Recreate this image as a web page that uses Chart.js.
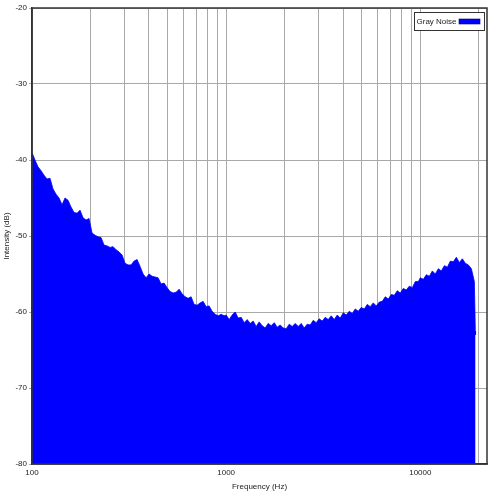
<!DOCTYPE html>
<html>
<head>
<meta charset="utf-8">
<script src="https://cdn.jsdelivr.net/npm/chart.js@4.4.1/dist/chart.umd.min.js"></script>
<style>
  html, body { margin: 0; padding: 0; background: #ffffff; }
  #wrap { width: 500px; height: 500px; }
</style>
</head>
<body>
<div id="wrap"><canvas id="c" width="500" height="500"></canvas></div>
<script>
// ---- data ----
const seriesLabel = "Gray Noise";
const frequencies = [
  100.0, 103.6, 107.4, 111.3, 115.3, 119.5, 123.8, 128.3, 133.0, 137.8,
  142.8, 147.9, 153.3, 158.9, 164.6, 170.6, 176.8, 183.2, 189.8, 196.7,
  203.8, 211.2, 218.9, 226.8, 235.0, 243.5, 252.4, 261.5, 271.0, 280.8,
  291.0, 301.5, 312.5, 323.8, 335.5, 347.7, 360.3, 373.3, 386.9, 400.9,
  415.4, 430.5, 446.1, 462.2, 479.0, 496.3, 514.3, 533.0, 552.3, 572.3,
  593.0, 614.5, 636.8, 659.9, 683.8, 708.6, 734.3, 760.9, 788.5, 817.0,
  846.7, 877.4, 909.2, 942.1, 976.3,
  1000, 1036, 1074, 1113, 1153, 1195, 1238, 1283, 1330, 1378,
  1428, 1479, 1533, 1589, 1646, 1706, 1768, 1832, 1898, 1967,
  2038, 2112, 2189, 2268, 2350, 2435, 2524, 2615, 2710, 2808,
  2910, 3015, 3125, 3238, 3355, 3477, 3603, 3733, 3869, 4009,
  4154, 4305, 4461, 4622, 4790, 4963, 5143, 5330, 5523, 5723,
  5930, 6145, 6368, 6599, 6838, 7086, 7343, 7609, 7885, 8170,
  8467, 8774, 9092, 9421, 9763,
  10000, 10360, 10740, 11130, 11530, 11950, 12380, 12830, 13300, 13780,
  14280, 14790, 15330, 15890, 16460, 17060, 17680, 18320, 18980,
  19200, 19250
];
const intensityDb = [
  -39.0, -40.0, -40.9, -41.4, -42.0, -42.5, -42.4, -43.8, -44.5, -45.0,
  -45.9, -45.0, -45.3, -46.2, -46.9, -47.0, -46.6, -47.6, -47.9, -47.7,
  -49.6, -49.9, -50.1, -50.2, -51.2, -51.3, -51.5, -51.4, -51.8, -52.1,
  -52.5, -53.6, -53.8, -53.8, -53.3, -53.1, -54.0, -55.0, -55.5, -55.0,
  -55.3, -55.4, -55.5, -56.3, -56.2, -56.8, -57.3, -57.5, -57.4, -57.0,
  -57.6, -58.0, -58.2, -58.0, -59.0, -59.1, -58.8, -58.6, -59.3, -59.2,
  -59.9, -60.3, -60.5, -60.3, -60.5,
  -60.4, -61.0, -60.4, -60.0, -60.8, -60.7, -61.4, -61.0, -61.5, -61.2,
  -61.9, -61.3, -61.8, -62.1, -61.5, -61.8, -61.4, -62.0, -61.7, -62.1,
  -62.2, -61.6, -61.9, -61.5, -61.9, -61.5, -62.1, -61.6, -61.7, -61.1,
  -61.4, -60.9, -61.2, -60.7, -61.0, -60.5, -61.0, -60.4, -60.8, -60.1,
  -60.4, -59.9, -60.2, -59.6, -59.9, -59.4, -59.6, -59.0, -59.3, -58.8,
  -59.2, -58.7, -58.6, -58.0, -58.3, -57.7, -57.8, -57.2, -57.5, -56.9,
  -57.1, -56.6, -56.8, -56.0, -56.0,
  -55.5, -55.7, -55.1, -55.3, -54.6, -55.0, -54.3, -54.6, -53.9, -54.1,
  -53.3, -53.4, -52.8, -53.5, -53.0, -53.6, -53.8, -54.3, -56.0,
  -62.5, -63.0
];
const xGridValues = [100, 200, 300, 400, 500, 600, 700, 800, 900,
  1000, 2000, 3000, 4000, 5000, 6000, 7000, 8000, 9000,
  10000, 20000];
const xTickLabels = [100, 1000, 10000];
const yTickValues = [-20, -30, -40, -50, -60, -70, -80];

// ---- chart ----
const FONT = { family: "'Liberation Sans', Arial, sans-serif", size: 8 };
const TEXT = '#222222';
const GRID = '#a9a9a9';
const FILL = '#0000ff';

const frameAndLegend = {
  id: 'frameAndLegend',
  afterDraw(chart) {
    const ctx = chart.ctx;
    const a = chart.chartArea;
    ctx.save();
    ctx.strokeStyle = '#333333';
    ctx.lineWidth = 1.5;
    ctx.strokeRect(a.left, a.top, a.right - a.left, a.bottom - a.top);
    // legend box
    const bx = 414.5, by = 12.5, bw = 70, bh = 18;
    ctx.fillStyle = '#ffffff';
    ctx.fillRect(bx, by, bw, bh);
    ctx.strokeStyle = '#333333';
    ctx.lineWidth = 1;
    ctx.strokeRect(bx, by, bw, bh);
    ctx.fillStyle = TEXT;
    ctx.font = FONT.size + "px " + FONT.family;
    ctx.textBaseline = 'middle';
    ctx.textAlign = 'left';
    ctx.fillText(chart.data.datasets[0].label, bx + 2, by + bh / 2);
    ctx.fillStyle = FILL;
    ctx.fillRect(459, 19, 21, 5);
    ctx.strokeStyle = '#00008b';
    ctx.lineWidth = 0.6;
    ctx.strokeRect(459, 19, 21, 5);
    ctx.restore();
  }
};

new Chart(document.getElementById('c'), {
  type: 'line',
  data: {
    datasets: [{
      label: seriesLabel,
      data: frequencies.map((f, i) => ({ x: f, y: intensityDb[i] })),
      borderColor: FILL,
      backgroundColor: FILL,
      borderWidth: 0.8,
      pointRadius: 0,
      tension: 0,
      fill: 'start'
    }]
  },
  options: {
    responsive: false,
    animation: false,
    events: [],
    layout: { padding: { top: 8, right: 13, bottom: 8, left: 1.5 } },
    plugins: { legend: { display: false }, tooltip: { enabled: false } },
    scales: {
      x: {
        type: 'logarithmic',
        min: 100,
        max: 22050,
        afterBuildTicks: (s) => { s.ticks = xGridValues.map(v => ({ value: v })); },
        afterFit: (s) => { s.height = 28; },
        ticks: {
          autoSkip: false, maxRotation: 0, minRotation: 0,
          padding: 4, font: FONT, color: TEXT,
          callback: (v) => xTickLabels.includes(v) ? String(v) : ''
        },
        grid: { color: GRID, lineWidth: 1, drawTicks: false },
        border: { color: '#333333', width: 1.5 },
        title: { display: true, text: 'Frequency (Hz)', font: FONT, color: TEXT, padding: 0 }
      },
      y: {
        min: -80,
        max: -20,
        afterBuildTicks: (s) => { s.ticks = yTickValues.map(v => ({ value: v })); },
        afterFit: (s) => { s.width = 30.5; },
        ticks: { padding: 2, font: FONT, color: TEXT },
        grid: { color: GRID, lineWidth: 1, tickLength: 3 },
        border: { color: '#333333', width: 1.5 },
        title: { display: true, text: 'Intensity (dB)', font: FONT, color: TEXT, padding: 0 }
      }
    }
  },
  plugins: [frameAndLegend]
});
</script>
</body>
</html>
